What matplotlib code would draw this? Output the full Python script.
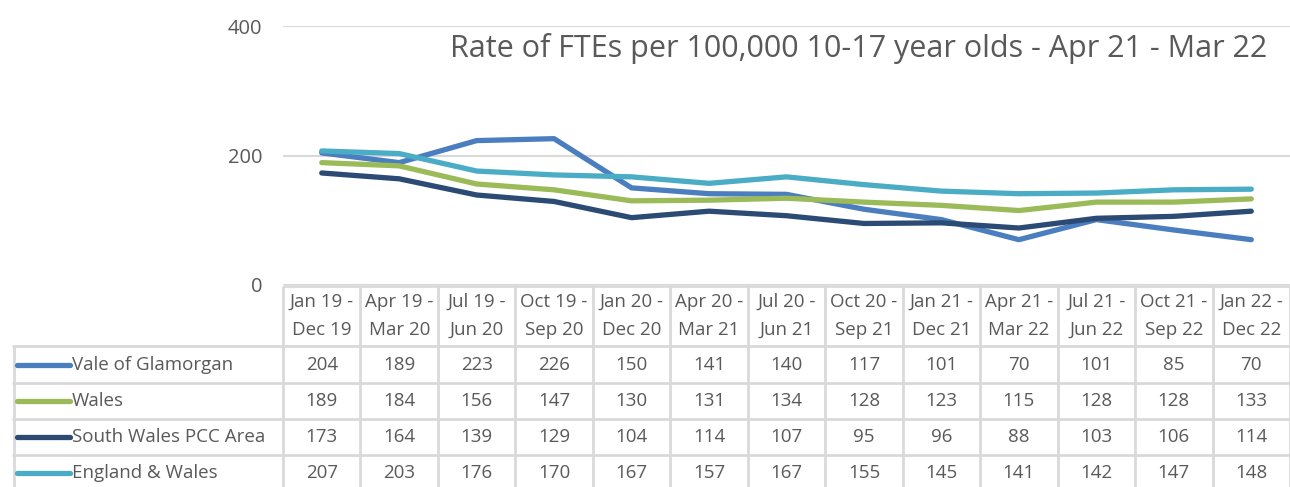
import matplotlib.pyplot as plt
import matplotlib.lines as mlines

W, H, DPI = 1290, 487, 100

periods = [
    "Jan 19 -\nDec 19", "Apr 19 -\nMar 20", "Jul 19 -\nJun 20", "Oct 19 -\nSep 20",
    "Jan 20 -\nDec 20", "Apr 20 -\nMar 21", "Jul 20 -\nJun 21", "Oct 20 -\nSep 21",
    "Jan 21 -\nDec 21", "Apr 21 -\nMar 22", "Jul 21 -\nJun 22", "Oct 21 -\nSep 22",
    "Jan 22 -\nDec 22",
]
series_names = ["Vale of Glamorgan", "Wales", "South Wales PCC Area", "England & Wales"]
vale = [204, 189, 223, 226, 150, 141, 140, 117, 101, 70, 101, 85, 70]
wales = [189, 184, 156, 147, 130, 131, 134, 128, 123, 115, 128, 128, 133]
south_wales = [173, 164, 139, 129, 104, 114, 107, 95, 96, 88, 103, 106, 114]
england_wales = [207, 203, 176, 170, 167, 157, 167, 155, 145, 141, 142, 147, 148]
y_ticks = [0, 200, 400]

COLORS = ["#4A7EBF", "#9BBB59", "#2B4B74", "#4BACC6"]
TEXT = "#595959"
GRID = "#D9D9D9"
FONT = "Open Sans"
TABLE_FS = 13.5

plt.rcParams["font.family"] = [FONT, "DejaVu Sans"]


def px_x(p):
    return p / W


def px_y(p):
    return 1 - p / H


fig = plt.figure(figsize=(W / DPI, H / DPI), dpi=DPI)

# main plot area
left, right, top, bottom = 283, 1290, 26, 285
ax = fig.add_axes([px_x(left), px_y(bottom), px_x(right) - px_x(left), px_y(top) - px_y(bottom)])
n = len(periods)
xs = list(range(n))
all_series = [vale, wales, south_wales, england_wales]
for values, color in zip(all_series, COLORS):
    ax.plot(xs, values, color=color, lw=3.8, solid_capstyle="round", solid_joinstyle="round", zorder=3)

ax.set_xlim(-0.5, n - 0.5)
ax.set_ylim(0, 400)
ax.set_yticks(y_ticks)
ax.set_yticklabels([str(t) for t in y_ticks])
ax.tick_params(axis="y", length=0, pad=15, labelsize=14.5, labelcolor=TEXT)
ax.set_xticks([])
ax.grid(axis="y", color=GRID, lw=1.5)
for s in ax.spines.values():
    s.set_visible(False)
ax.set_facecolor("none")

fig.text(px_x(859), px_y(48), "Rate of FTEs per 100,000 10-17 year olds - Apr 21 - Mar 22",
         ha="center", va="center", fontsize=22, color=TEXT)

# data table below the plot, x in category units, y in pixels from the top
tab = fig.add_axes([px_x(12), 0, px_x(1290) - px_x(12), px_y(285)])
label_w = (left - 12) / ((right - left) / n)
tab.set_xlim(-0.5 - label_w, n - 0.5)
tab.set_ylim(H, 285)
tab.axis("off")

row_edges = [346, 383, 419, 455]
row_centers = [365, 401, 437, 473]
lkw = dict(color=GRID, lw=2, solid_capstyle="butt")
tab.plot([-0.5, n - 0.5], [286, 286], **lkw)
for e in row_edges:
    tab.plot([-0.5 - label_w, n - 0.5], [e, e], **lkw)
tab.plot([-0.5 - label_w + 0.02, -0.5 - label_w + 0.02], [row_edges[0], H], **lkw)
for k in range(n + 1):
    tab.plot([k - 0.5, k - 0.5], [286, H], **lkw)

for i, lab in enumerate(periods):
    l1, l2 = lab.split("\n")
    tab.text(i, 302, l1, ha="center", va="center", fontsize=TABLE_FS, color=TEXT)
    tab.text(i, 330, l2, ha="center", va="center", fontsize=TABLE_FS, color=TEXT)

key_x0 = -0.5 - label_w + 5 / 77.46
key_x1 = key_x0 + 53 / 77.46
for name, values, color, yc in zip(series_names, all_series, COLORS, row_centers):
    tab.add_line(mlines.Line2D([key_x0, key_x1], [yc, yc], color=color, lw=3.8, solid_capstyle="round"))
    tab.text(key_x1 + 0.02, yc, name, ha="left", va="center", fontsize=TABLE_FS, color=TEXT)
    for i, v in enumerate(values):
        tab.text(i, yc, str(v), ha="center", va="center", fontsize=TABLE_FS, color=TEXT)

fig.savefig("out.png", dpi=DPI)
